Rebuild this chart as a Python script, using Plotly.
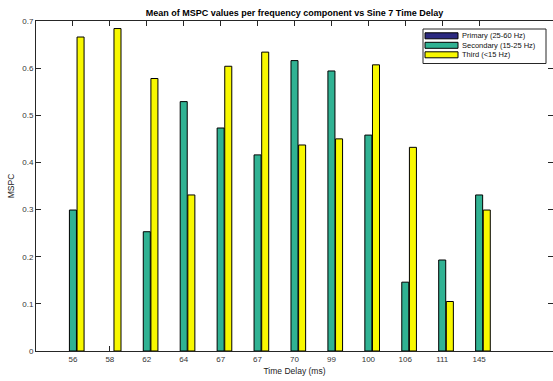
import plotly.graph_objects as go

# ---- data ----
categories = ["56", "58", "62", "64", "67", "67", "70", "99", "100", "106", "111", "145"]
series_names = ["Primary (25-60 Hz)", "Secondary (15-25 Hz)", "Third (<15 Hz)"]
primary = [0, 0, 0, 0, 0, 0, 0, 0, 0, 0, 0, 0]
secondary = [0.299, 0, 0.253, 0.529, 0.473, 0.416, 0.616, 0.594, 0.458, 0.146, 0.193, 0.331]
third = [0.666, 0.684, 0.578, 0.331, 0.604, 0.634, 0.437, 0.450, 0.607, 0.432, 0.105, 0.299]
yticks = [0, 0.1, 0.2, 0.3, 0.4, 0.5, 0.6, 0.7]

colors = ["#2c2a80", "#30b293", "#f8f800"]
W, H = 553, 381
L, R, T, B = 36, 0, 21, 30
FONT = "Liberation Sans, Arial, sans-serif"
AX = "#262626"

positions = list(range(1, len(categories) + 1))

fig = go.Figure()
for name, vals, col in zip(series_names, [primary, secondary, third], colors):
    fig.add_trace(go.Bar(
        x=positions, y=vals, name=name, showlegend=False,
        marker=dict(color=col,
                    line=dict(color="black", width=[1 if v > 0 else 0 for v in vals])),
    ))

# right-side ticks without a visible line (plot extends to window edge)
fig.add_trace(go.Scatter(x=[None], y=[None], yaxis="y2", showlegend=False))

fig.update_layout(
    width=W, height=H,
    margin=dict(l=L, r=R, t=T, b=B),
    paper_bgcolor="white", plot_bgcolor="white",
    barmode="group", bargap=0.38, bargroupgap=0.08,
    font=dict(family=FONT, size=8, color=AX),
    title=dict(text="<b>Mean of MSPC values per frequency component vs Sine 7 Time Delay</b>",
               x=0.5, xref="paper", xanchor="center",
               y=1 - 12.5 / H, yref="container", yanchor="middle",
               font=dict(size=9, color="black", family=FONT)),
    xaxis=dict(range=[0, 14], tickvals=positions, ticktext=categories,
               ticks="inside", ticklen=5, tickcolor=AX, showline=True, linecolor=AX,
               linewidth=1, mirror="ticks", showgrid=False, zeroline=False,
               layer="below traces", tickfont=dict(size=8, color="#333"),
               title=dict(text="Time Delay (ms)", standoff=5, font=dict(size=8.5, color="#222"))),
    yaxis=dict(range=[0, 0.7], tickvals=yticks, ticktext=[f"{v:g}" for v in yticks],
               ticks="inside", ticklen=5, tickcolor=AX, showline=True, linecolor=AX,
               linewidth=1, mirror=False, showgrid=False, zeroline=False,
               layer="below traces", tickfont=dict(size=8, color="#333"),
               title=dict(text="MSPC", standoff=6, font=dict(size=8.5, color="#222"))),
    yaxis2=dict(range=[0, 0.7], tickvals=yticks, overlaying="y", side="right",
                ticks="inside", ticklen=5, tickcolor=AX, showline=False,
                showticklabels=False, showgrid=False, zeroline=False),
)

# ---- custom MATLAB-style legend (pixel layout converted to paper coords) ----
pw, ph = W - L - R, H - T - B
def px(x):
    return (x - L) / pw
def py(y):
    return (H - B - y) / ph

fig.add_shape(type="rect", xref="paper", yref="paper",
              x0=px(423), x1=px(546), y0=py(63.5), y1=py(29),
              line=dict(color=AX, width=1), fillcolor="white", layer="above")
row_y = [35.8, 45.3, 54.8]
for name, col, ry in zip(series_names, colors, row_y):
    fig.add_shape(type="rect", xref="paper", yref="paper",
                  x0=px(425), x1=px(458), y0=py(ry + 3), y1=py(ry - 3),
                  line=dict(color="black", width=1), fillcolor=col, layer="above")
    fig.add_annotation(text=name, xref="paper", yref="paper", x=px(459.5), y=py(ry),
                       xanchor="left", yanchor="middle", showarrow=False,
                       font=dict(size=7.5, color="#111", family=FONT))

fig.write_html("out.html")
